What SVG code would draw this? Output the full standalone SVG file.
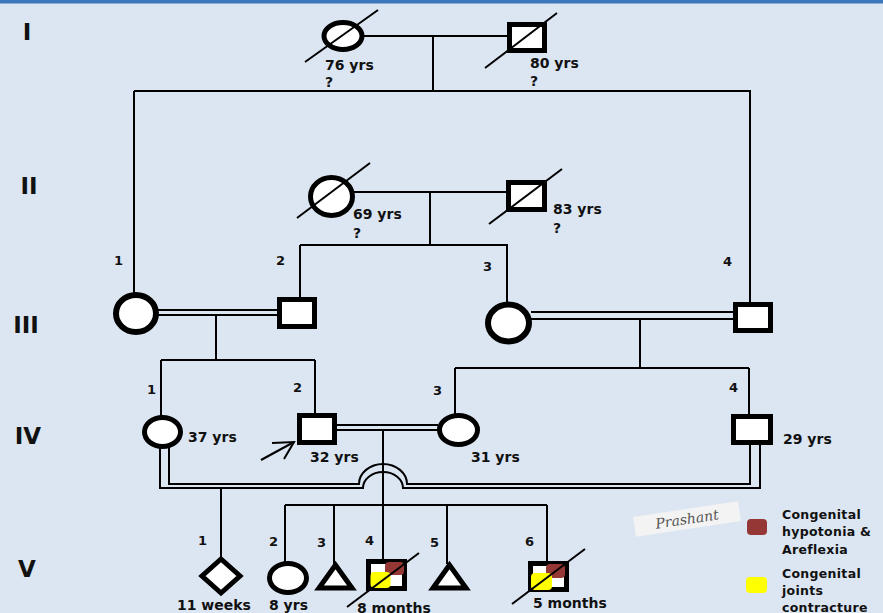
<svg xmlns="http://www.w3.org/2000/svg" width="883" height="613" viewBox="0 0 883 613">
  <defs>
    <style>
      .bg{fill:#DCE6F2}
      .n{fill:#fff;stroke:#000;stroke-width:5}
      .nt{fill:#fff;stroke:#000;stroke-width:6}
      .c{fill:none;stroke:#000;stroke-width:2}
      .dd{stroke:#000;stroke-width:2;fill:none}
      .t{font-family:"DejaVu Sans",Verdana,sans-serif;font-weight:bold;font-size:14px;fill:#111}
      .num{font-size:13px}
      .gen{font-size:23px;text-anchor:middle}
      .lg{font-size:12.5px;letter-spacing:0.3px}
      .brown{fill:#953735}
      .yellow{fill:#FFFF00}
    </style>
  </defs>

  <rect class="bg" x="0" y="0" width="883" height="613"/>
  <rect x="0" y="0" width="883" height="3.5" fill="#3C77BA"/>

  <!-- generation numerals -->
  <g id="generations" class="t">
    <text class="t gen" x="27" y="40">I</text>
    <text class="t gen" x="29" y="194">II</text>
    <text class="t gen" x="26" y="333">III</text>
    <text class="t gen" x="28" y="444">IV</text>
    <text class="t gen" x="27" y="577">V</text>
  </g>

  <!-- connectors: marriages, sibships, descent lines -->
  <g id="connectors" class="c">
    <!-- generation I -->
    <line x1="364" y1="36" x2="507" y2="36"/>
    <line x1="433" y1="36" x2="433" y2="91"/>
    <line x1="134" y1="91" x2="751" y2="91"/>
    <line x1="134" y1="91" x2="134" y2="293"/>
    <line x1="750" y1="91" x2="750" y2="303"/>
    <!-- generation II -->
    <line x1="354" y1="192" x2="507" y2="192"/>
    <line x1="430" y1="192" x2="430" y2="245"/>
    <line x1="300" y1="245" x2="508" y2="245"/>
    <line x1="300" y1="245" x2="300" y2="298"/>
    <line x1="507" y1="245" x2="507" y2="303"/>
    <!-- III-1 = III-2 (consanguineous) -->
    <line x1="158" y1="310" x2="278" y2="310"/>
    <line x1="158" y1="315" x2="278" y2="315"/>
    <line x1="216" y1="315" x2="216" y2="360"/>
    <line x1="161" y1="360" x2="315" y2="360"/>
    <line x1="161" y1="360" x2="161" y2="416"/>
    <line x1="315" y1="360" x2="315" y2="414"/>
    <!-- III-3 = III-4 (consanguineous) -->
    <line x1="531" y1="312" x2="735" y2="312"/>
    <line x1="531" y1="319" x2="735" y2="319"/>
    <line x1="640" y1="319" x2="640" y2="368"/>
    <line x1="455" y1="368" x2="749" y2="368"/>
    <line x1="455" y1="368" x2="455" y2="414"/>
    <line x1="749" y1="368" x2="749" y2="415"/>
    <!-- IV-2 = IV-3 (consanguineous) -->
    <line x1="336" y1="425" x2="438" y2="425"/>
    <line x1="336" y1="430" x2="438" y2="430"/>
    <line x1="383" y1="430" x2="383" y2="505"/>
    <!-- IV-1 = IV-4 (consanguineous), hopping over the IV-2/IV-3 descent line -->
    <path d="M169,441 V484 H359 A24,20 0 0 1 407,484 H750 V445"/>
    <path d="M160,447 V488 H363 A20,16 0 0 1 403,488 H760 V445"/>
    <line x1="221" y1="488" x2="221" y2="559"/>
    <!-- sibship of IV-2 and IV-3 -->
    <line x1="285" y1="505" x2="547" y2="505"/>
    <line x1="285" y1="505" x2="285" y2="562"/>
    <line x1="334" y1="505" x2="334" y2="564"/>
    <line x1="383" y1="505" x2="383" y2="560"/>
    <line x1="447" y1="505" x2="447" y2="564"/>
    <line x1="547" y1="505" x2="547" y2="562"/>
    <!-- proband arrow -->
    <line x1="261" y1="460" x2="294" y2="442"/>
    <polyline points="272,443 294,442 284,459"/>
  </g>

  <!-- generation I -->
  <g id="I-1">
    <ellipse class="n" cx="343" cy="36" rx="19" ry="13.5"/>
    <line class="dd" x1="305" y1="62" x2="378" y2="10"/>
    <text class="t" x="325" y="70">76 yrs</text>
    <text class="t" x="325" y="87">?</text>
  </g>
  <g id="I-2">
    <rect class="n" x="509.5" y="24.5" width="35" height="26"/>
    <line class="dd" x1="485" y1="68" x2="557" y2="13"/>
    <text class="t" x="530" y="68">80 yrs</text>
    <text class="t" x="530" y="86">?</text>
  </g>

  <!-- generation II -->
  <g id="II-1">
    <ellipse class="n" cx="331.5" cy="196.5" rx="21" ry="19"/>
    <line class="dd" x1="297" y1="218" x2="370" y2="163"/>
    <text class="t" x="353" y="219">69 yrs</text>
    <text class="t" x="353" y="238">?</text>
  </g>
  <g id="II-2">
    <rect class="n" x="508.5" y="182.5" width="36" height="27"/>
    <line class="dd" x1="489" y1="224" x2="562" y2="169"/>
    <text class="t" x="553" y="214">83 yrs</text>
    <text class="t" x="553" y="233">?</text>
  </g>

  <!-- generation III -->
  <g id="III-1">
    <ellipse class="nt" cx="136" cy="313.5" rx="20" ry="18.5"/>
    <text class="t num" x="114" y="265">1</text>
  </g>
  <g id="III-2">
    <rect class="n" x="279.5" y="299.5" width="35" height="27"/>
    <text class="t num" x="276" y="265">2</text>
  </g>
  <g id="III-3">
    <ellipse class="nt" cx="508.5" cy="323" rx="20.5" ry="18.5"/>
    <text class="t num" x="483" y="271">3</text>
  </g>
  <g id="III-4">
    <rect class="n" x="735.5" y="304.5" width="35" height="26"/>
    <text class="t num" x="723" y="266">4</text>
  </g>

  <!-- generation IV -->
  <g id="IV-1">
    <ellipse class="n" cx="162.5" cy="432" rx="18" ry="14.5"/>
    <text class="t num" x="147" y="394">1</text>
    <text class="t" x="188" y="442">37 yrs</text>
  </g>
  <g id="IV-2">
    <rect class="n" x="299.5" y="415.5" width="35" height="27"/>
    <text class="t num" x="293" y="392">2</text>
    <text class="t" x="310" y="462">32 yrs</text>
  </g>
  <g id="IV-3">
    <ellipse class="n" cx="458.5" cy="430" rx="19" ry="14.5"/>
    <text class="t num" x="433" y="395">3</text>
    <text class="t" x="471" y="462">31 yrs</text>
  </g>
  <g id="IV-4">
    <rect class="n" x="733.5" y="416.5" width="37" height="26"/>
    <text class="t num" x="729" y="392">4</text>
    <text class="t" x="783" y="444">29 yrs</text>
  </g>

  <!-- generation V -->
  <g id="V-1">
    <polygon class="n" points="221,559 240,576 221,593 202,576"/>
    <text class="t num" x="198" y="545">1</text>
    <text class="t" x="177" y="610">11 weeks</text>
  </g>
  <g id="V-2">
    <ellipse class="n" cx="288" cy="578" rx="18.5" ry="14.5"/>
    <text class="t num" x="269" y="546">2</text>
    <text class="t" x="269" y="610">8 yrs</text>
  </g>
  <g id="V-3">
    <polygon class="n" points="335.5,565 319,588 352,588"/>
    <text class="t num" x="317" y="547">3</text>
  </g>
  <g id="V-4">
    <rect class="n" x="368.5" y="561.5" width="36" height="27"/>
    <rect class="brown" x="385" y="562" width="19" height="13" rx="4"/>
    <rect class="yellow" x="370.5" y="572" width="20" height="16" rx="4"/>
    <line class="dd" x1="347" y1="607" x2="419" y2="553"/>
    <text class="t num" x="365" y="545">4</text>
    <text class="t" x="357" y="613">8 months</text>
  </g>
  <g id="V-5">
    <polygon class="n" points="449.5,565 433,588 466,588"/>
    <text class="t num" x="430" y="547">5</text>
  </g>
  <g id="V-6">
    <rect class="n" x="530.5" y="563.5" width="36" height="26"/>
    <rect class="brown" x="546" y="564" width="19" height="14" rx="4"/>
    <rect class="yellow" x="531" y="573" width="21" height="17" rx="4"/>
    <line class="dd" x1="512" y1="604" x2="585" y2="549"/>
    <text class="t num" x="525" y="546">6</text>
    <text class="t" x="533" y="608">5 months</text>
  </g>

  <!-- signature -->
  <g id="signature" transform="translate(687,519) rotate(-8.5)">
    <rect x="-53" y="-10" width="106" height="20" fill="#F3F3F3"/>
    <text x="0" y="5" text-anchor="middle" font-family="'DejaVu Serif',serif" font-style="italic" font-size="14" fill="#555">Prashant</text>
  </g>

  <!-- legend -->
  <g id="legend" class="t lg">
    <rect class="brown" x="747" y="519" width="20" height="16" rx="4"/>
    <text class="t lg" x="782" y="519">Congenital</text>
    <text class="t lg" x="782" y="536">hypotonia &amp;</text>
    <text class="t lg" x="782" y="554">Areflexia</text>
    <rect class="yellow" x="746" y="577" width="21" height="16" rx="4"/>
    <text class="t lg" x="782" y="578">Congenital</text>
    <text class="t lg" x="782" y="595">joints</text>
    <text class="t lg" x="782" y="612">contracture</text>
  </g>
</svg>
